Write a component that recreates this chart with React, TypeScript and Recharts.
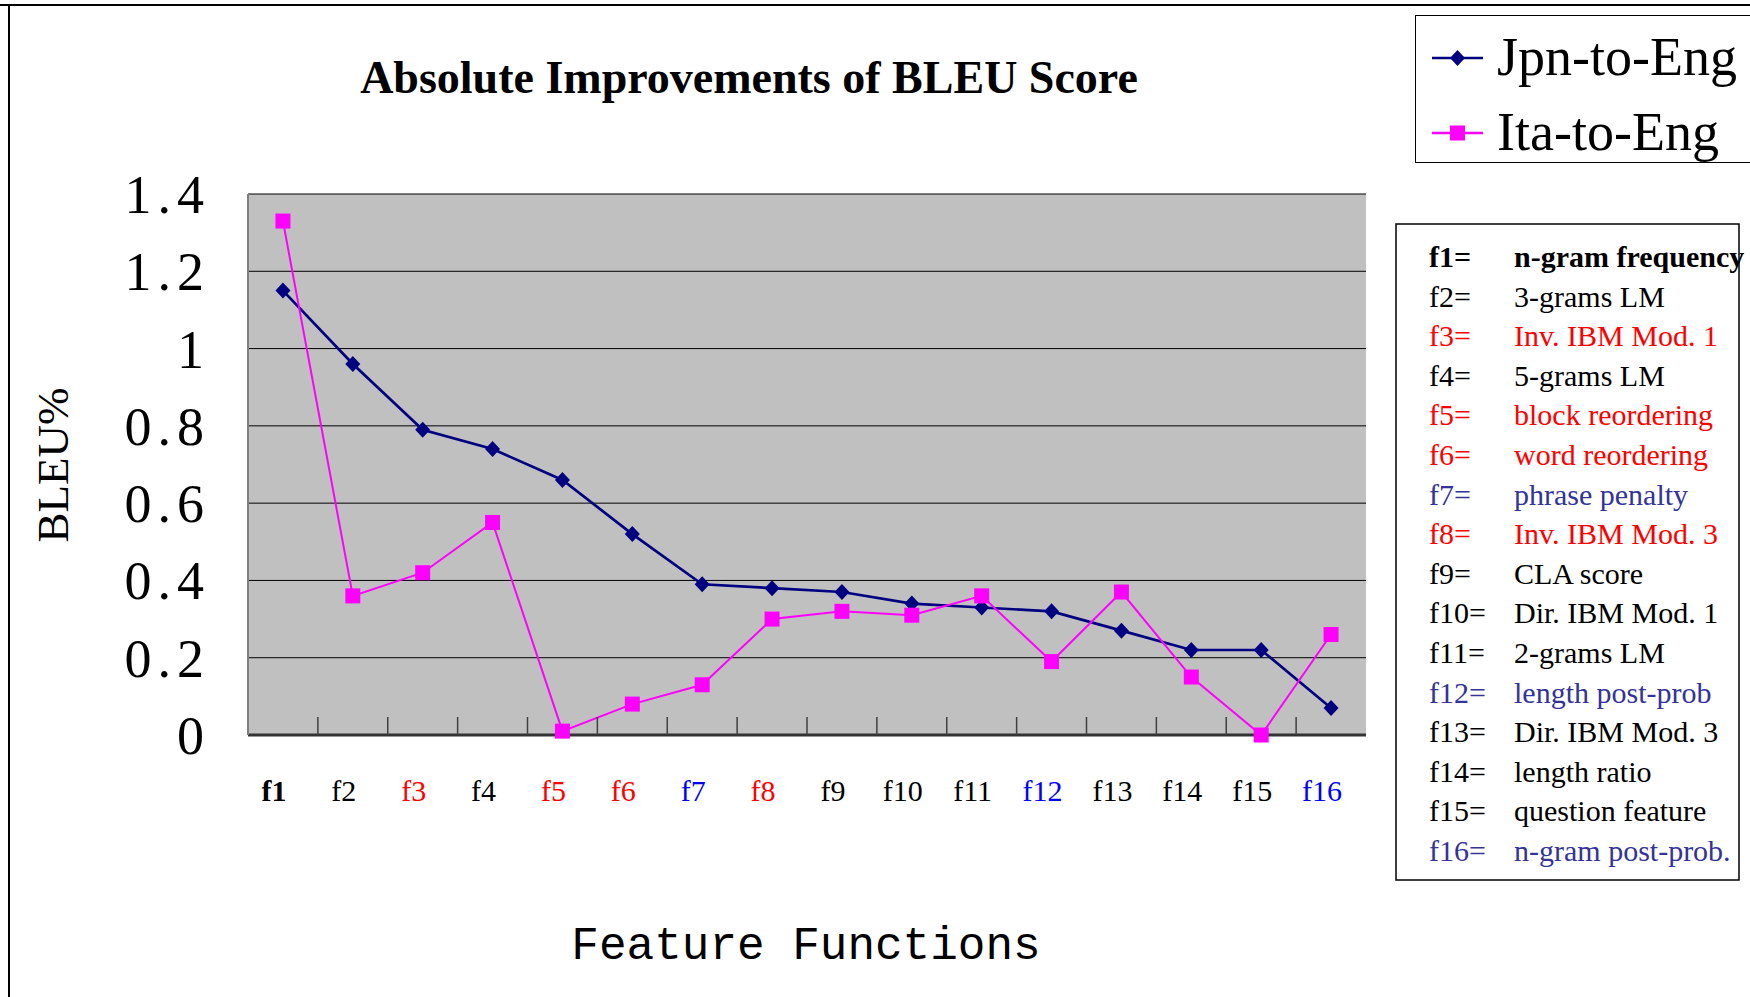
import { LineChart, Line, XAxis, YAxis, CartesianGrid, Legend } from "recharts"

const categories = ["f1", "f2", "f3", "f4", "f5", "f6", "f7", "f8", "f9", "f10", "f11", "f12", "f13", "f14", "f15", "f16"]
const jpnToEng = [1.15, 0.96, 0.79, 0.74, 0.66, 0.52, 0.39, 0.38, 0.37, 0.34, 0.33, 0.32, 0.27, 0.22, 0.22, 0.07]
const itaToEng = [1.33, 0.36, 0.42, 0.55, 0.01, 0.08, 0.13, 0.3, 0.32, 0.31, 0.36, 0.19, 0.37, 0.15, 0.0, 0.26]
const yTicks = [0, 0.2, 0.4, 0.6, 0.8, 1, 1.2, 1.4]
const seriesOrder = ["jpn", "ita"]

// k = black, r = red, b = blue
const featureKinds = ["k", "k", "r", "k", "r", "r", "b", "r", "k", "k", "k", "b", "k", "k", "k", "b"]
const featureNames = [
  "n-gram frequency",
  "3-grams LM",
  "Inv. IBM Mod. 1",
  "5-grams LM",
  "block reordering",
  "word reordering",
  "phrase penalty",
  "Inv. IBM Mod. 3",
  "CLA score",
  "Dir. IBM Mod. 1",
  "2-grams LM",
  "length post-prob",
  "Dir. IBM Mod. 3",
  "length ratio",
  "question feature",
  "n-gram post-prob.",
]

const data = categories.map((cat, i) => ({ cat, jpn: jpnToEng[i], ita: itaToEng[i] }))

const SERIF = "'Liberation Serif', 'Times New Roman', serif"
const NAVY = "#000080"
const MAGENTA = "#FF00FF"
const axisColor = { k: "#000000", r: "#FF0000", b: "#0000FF" } as Record<string, string>
const keyColor = { k: "#000000", r: "#FF0000", b: "#333399" } as Record<string, string>

const PLOT_LEFT = 248
const PLOT_RIGHT = 1366
const PLOT_W = PLOT_RIGHT - PLOT_LEFT

function CategoryTick(props: any) {
  const { x, y, index, payload } = props
  const step = PLOT_W / categories.length
  return (
    <g>
      <text
        x={x - 9}
        y={y + 66}
        textAnchor="middle"
        fontFamily={SERIF}
        fontSize={30}
        fontWeight={index === 0 ? "bold" : "normal"}
        fill={axisColor[featureKinds[index]]}
      >
        {payload.value}
      </text>
      {index < categories.length - 1 && (
        <line x1={x + step / 2} x2={x + step / 2} y1={y} y2={y - 18} stroke="#404040" strokeWidth={1.5} />
      )}
    </g>
  )
}

function ValueTick(props: any) {
  const { x, y, payload } = props
  return (
    <text x={x} y={y + 19} textAnchor="end" fontFamily={SERIF} fontSize={54} letterSpacing={6} fill="#000">
      {String(payload.value)}
    </text>
  )
}

function diamond(props: any) {
  const { cx, cy, index } = props
  return <path key={`d${index}`} d={`M${cx},${cy - 8}L${cx + 7.5},${cy}L${cx},${cy + 8}L${cx - 7.5},${cy}Z`} fill={NAVY} />
}

function square(props: any) {
  const { cx, cy, index } = props
  return <rect key={`s${index}`} x={cx - 7.5} y={cy - 7.5} width={15} height={15} fill={MAGENTA} />
}

function SeriesLegend(props: any) {
  const payload = [...(props.payload || [])].sort(
    (a: any, b: any) => seriesOrder.indexOf(a.dataKey) - seriesOrder.indexOf(b.dataKey)
  )
  return (
    <div style={{ paddingTop: 4 }}>
      {payload.map((item: any) => (
        <div key={item.value} style={{ display: "flex", alignItems: "center", height: 75, paddingLeft: 16 }}>
          <svg width={51} height={20} style={{ marginRight: 14 }}>
            <line x1={0} x2={51} y1={10} y2={10} stroke={item.color} strokeWidth={2.5} />
            {item.dataKey === "jpn" ? (
              <path d="M25.5,2L33,10L25.5,18L18,10Z" fill={NAVY} />
            ) : (
              <rect x={18} y={2.5} width={15} height={15} fill={MAGENTA} />
            )}
          </svg>
          <span style={{ fontFamily: SERIF, fontSize: 54, lineHeight: "75px", color: "#000" }}>{item.value}</span>
        </div>
      ))}
    </div>
  )
}

export default function App() {
  return (
    <div style={{ position: "absolute", left: 0, top: 0, width: 1750, height: 997, background: "#fff", overflow: "hidden" }}>
      <LineChart width={1750} height={997} data={data} margin={{ top: 194, right: 1750 - PLOT_RIGHT, bottom: 32, left: 0 }}>
        <CartesianGrid vertical={false} stroke="#000" strokeWidth={1} fill="#C0C0C0" fillOpacity={1} />
        <XAxis
          dataKey="cat"
          height={230}
          interval={0}
          padding={{ left: PLOT_W / categories.length / 2, right: PLOT_W / categories.length / 2 }}
          tickSize={0}
          tickMargin={0}
          tickLine={false}
          tick={<CategoryTick />}
          axisLine={{ stroke: "#333", strokeWidth: 3 }}
        />
        <XAxis xAxisId="top" dataKey="cat" orientation="top" height={0} tick={false} tickLine={false} axisLine={{ stroke: "#808080", strokeWidth: 2 }} />
        <YAxis
          width={PLOT_LEFT}
          domain={[0, 1.4]}
          ticks={yTicks}
          interval={0}
          tickSize={0}
          tickMargin={38}
          tickLine={false}
          tick={<ValueTick />}
          axisLine={{ stroke: "#808080", strokeWidth: 2 }}
        />
        <YAxis yAxisId="right" orientation="right" width={0} domain={[0, 1.4]} tick={false} tickLine={false} axisLine={{ stroke: "#808080", strokeWidth: 2 }} />
        <Legend
          layout="horizontal"
          verticalAlign="middle"
          align="center"
          content={<SeriesLegend />}
          wrapperStyle={{ position: "absolute", left: 1415, top: 15, width: 345, height: 148, border: "1.5px solid #000", boxSizing: "border-box", background: "#fff" }}
        />
        <Line type="linear" dataKey="jpn" name="Jpn-to-Eng" stroke={NAVY} strokeWidth={2.7} dot={diamond} activeDot={false} isAnimationActive={false} />
        <Line type="linear" dataKey="ita" name="Ita-to-Eng" stroke={MAGENTA} strokeWidth={2} dot={square} activeDot={false} isAnimationActive={false} />
      </LineChart>
      <svg width={1750} height={997} style={{ position: "absolute", left: 0, top: 0, pointerEvents: "none" }}>
        <line x1={0} x2={1750} y1={5} y2={5} stroke="#000" strokeWidth={2} />
        <line x1={9} x2={9} y1={5} y2={997} stroke="#000" strokeWidth={2} />
        <text x={749} y={93} textAnchor="middle" fontFamily={SERIF} fontSize={46} fontWeight="bold" fill="#000">
          Absolute Improvements of BLEU Score
        </text>
        <text x={53} y={465} transform="rotate(-90 53 465)" textAnchor="middle" dominantBaseline="central" fontFamily={SERIF} fontSize={45} fill="#000">
          BLEU%
        </text>
        <text x={806} y={959} textAnchor="middle" fontFamily="'Liberation Mono', monospace" fontSize={46} fill="#000">
          Feature Functions
        </text>
        <rect x={1396} y={224} width={343} height={656} fill="none" stroke="#000" strokeWidth={1.5} />
        {featureNames.map((name, i) => (
          <g key={name} fontFamily={SERIF} fontSize={30} fontWeight={i === 0 ? "bold" : "normal"} fill={keyColor[featureKinds[i]]}>
            <text x={1429} y={267 + i * 39.6}>{`${categories[i]}=`}</text>
            <text x={1514} y={267 + i * 39.6}>{name}</text>
          </g>
        ))}
      </svg>
    </div>
  )
}
